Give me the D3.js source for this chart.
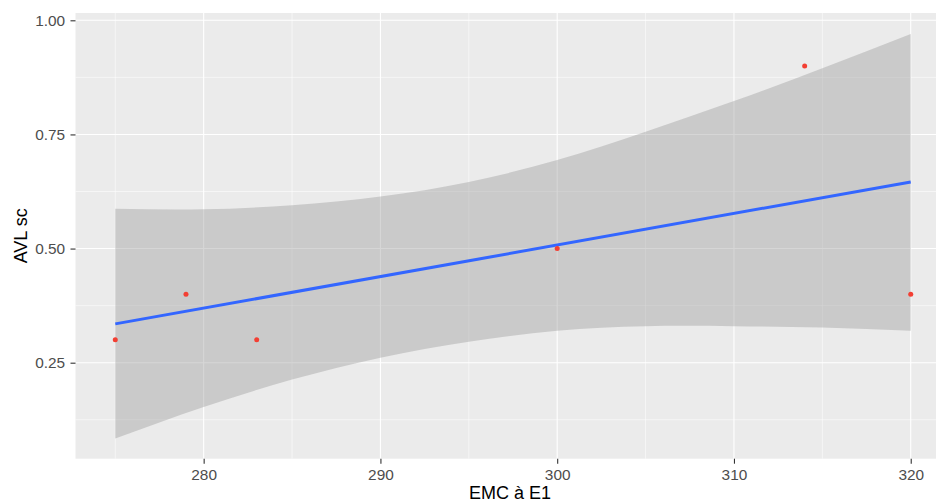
<html>
  <head>
    <meta charset="utf-8">
    <script src="https://cdn.jsdelivr.net/npm/d3@7"></script>
    <style>
      body { margin: 0; background: #fff; }
      text { font-family: "Liberation Sans", Arial, sans-serif; }
    </style>
    <script type="text/javascript">
      // observed points
      var emc = [275, 279, 283, 300, 314, 320]
      var avl = [0.3, 0.4, 0.3, 0.5, 0.9, 0.4]

      // lm fit line at both ends
      var fitX = [275, 320]
      var fitY = [0.335, 0.646]

      // confidence band
      var bandX     = [275, 280, 285, 290, 295, 300, 305, 310, 315, 320]
      var bandUpper = [0.587, 0.586, 0.595, 0.614, 0.646, 0.694, 0.756, 0.823, 0.895, 0.970]
      var bandLower = [0.084, 0.153, 0.213, 0.261, 0.296, 0.320, 0.330, 0.330, 0.327, 0.320]

      var xTicks = [280, 290, 300, 310, 320]
      var xMinor = [275, 285, 295, 305, 315]
      var yTicks = [0.25, 0.50, 0.75, 1.00]
      var yMinor = [0.125, 0.375, 0.625, 0.875]

      window.onload = function () {
        var width = 936
        var height = 503

        var x = d3.scaleLinear().domain([272.75, 322.25]).range([75.5, 950.5])
        var y = d3.scaleLinear().domain([0.0397, 1.016]).range([458.7, 13])

        var svg = d3.select("body").append("svg")
          .attr("width", width)
          .attr("height", height)

        var panel = svg.append("g")
        panel.append("rect")
          .attr("x", x.range()[0])
          .attr("y", y.range()[1])
          .attr("width", x.range()[1] - x.range()[0])
          .attr("height", y.range()[0] - y.range()[1])
          .attr("fill", "#EBEBEB")

        // minor grid
        panel.selectAll(".xminor").data(xMinor).enter().append("line")
          .attr("x1", function (d) { return x(d) }).attr("x2", function (d) { return x(d) })
          .attr("y1", y.range()[0]).attr("y2", y.range()[1])
          .attr("stroke", "#fff").attr("stroke-width", 0.55)
        panel.selectAll(".yminor").data(yMinor).enter().append("line")
          .attr("y1", function (d) { return y(d) }).attr("y2", function (d) { return y(d) })
          .attr("x1", x.range()[0]).attr("x2", x.range()[1])
          .attr("stroke", "#fff").attr("stroke-width", 0.55)
        // major grid
        panel.selectAll(".xmajor").data(xTicks).enter().append("line")
          .attr("x1", function (d) { return x(d) }).attr("x2", function (d) { return x(d) })
          .attr("y1", y.range()[0]).attr("y2", y.range()[1])
          .attr("stroke", "#fff").attr("stroke-width", 1.1)
        panel.selectAll(".ymajor").data(yTicks).enter().append("line")
          .attr("y1", function (d) { return y(d) }).attr("y2", function (d) { return y(d) })
          .attr("x1", x.range()[0]).attr("x2", x.range()[1])
          .attr("stroke", "#fff").attr("stroke-width", 1.1)

        // ribbon
        var band = bandX.map(function (d, i) { return { x: d, lo: bandLower[i], hi: bandUpper[i] } })
        panel.append("path")
          .datum(band)
          .attr("fill", "#999999")
          .attr("fill-opacity", 0.4)
          .attr("d", d3.area()
            .curve(d3.curveNatural)
            .x(function (d) { return x(d.x) })
            .y0(function (d) { return y(d.lo) })
            .y1(function (d) { return y(d.hi) }))

        // fit line
        var fit = fitX.map(function (d, i) { return [d, fitY[i]] })
        panel.append("path")
          .datum(fit)
          .attr("fill", "none")
          .attr("stroke", "#3366FF")
          .attr("stroke-width", 3)
          .attr("d", d3.line()
            .x(function (d) { return x(d[0]) })
            .y(function (d) { return y(d[1]) }))

        // points
        panel.selectAll("circle").data(emc).enter().append("circle")
          .attr("cx", function (d) { return x(d) })
          .attr("cy", function (d, i) { return y(avl[i]) })
          .attr("r", 2.5)
          .attr("fill", "#F33F33")

        // axes
        var xAxis = d3.axisBottom(x).tickValues(xTicks).tickSize(5).tickPadding(5.4)
          .tickFormat(d3.format("d"))
        var gx = svg.append("g")
          .attr("transform", "translate(0," + y.range()[0] + ")")
          .call(xAxis)
        gx.select(".domain").remove()
        gx.selectAll("line").attr("stroke", "#333").attr("stroke-width", 1.1)
        gx.selectAll("text").attr("fill", "#4D4D4D").attr("font-size", "15.4px")

        var yAxis = d3.axisLeft(y).tickValues(yTicks).tickSize(5).tickPadding(5.4)
          .tickFormat(d3.format(".2f"))
        var gy = svg.append("g")
          .attr("transform", "translate(" + x.range()[0] + ",0)")
          .call(yAxis)
        gy.select(".domain").remove()
        gy.selectAll("line").attr("stroke", "#333").attr("stroke-width", 1.1)
        gy.selectAll("text").attr("fill", "#4D4D4D").attr("font-size", "15.4px")

        // titles
        svg.append("text")
          .attr("x", 510)
          .attr("y", 498.5)
          .attr("text-anchor", "middle")
          .attr("font-size", "18px")
          .attr("fill", "#000")
          .text("EMC à E1")

        svg.append("text")
          .attr("transform", "translate(26.7," + ((y.range()[0] + y.range()[1]) / 2) + ") rotate(-90)")
          .attr("text-anchor", "middle")
          .attr("font-size", "18px")
          .attr("fill", "#000")
          .text("AVL sc")
      }
    </script>
  </head>
  <body>
  </body>
</html>
